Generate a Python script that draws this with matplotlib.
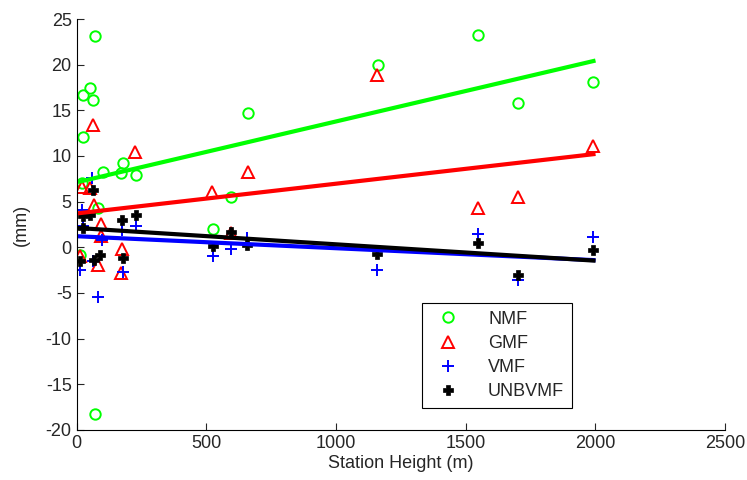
import matplotlib
matplotlib.use("Agg")
import matplotlib.pyplot as plt
from matplotlib import font_manager

# station heights (m) and biases (mm)
NMF_H = [13, 20, 23, 23, 52, 64, 71, 71, 84, 103, 171, 180, 229, 527, 594, 660, 1161, 1549, 1701, 1993]
NMF_V = [-0.8, 7.0, 16.7, 12.1, 17.5, 16.1, 23.1, -18.3, 4.3, 8.2, 8.1, 9.2, 7.9, 2.0, 5.55, 14.75, 20.0, 23.3, 15.8, 18.1]

GMF_H = [13, 20, 52, 64, 68, 81, 93, 95, 170, 177, 225, 524, 594, 660, 1160, 1549, 1701, 1993]
GMF_V = [-1.0, 6.6, 6.5, 13.4, 4.6, -1.9, 2.6, 1.2, -2.8, -0.2, 10.4, 6.1, 1.6, 8.2, 18.9, 4.3, 5.55, 11.1]

VMF_H = [13, 20, 26, 61, 64, 84, 97, 174, 180, 229, 527, 594, 656, 1157, 1549, 1701, 1993]
VMF_V = [-2.5, 4.1, 2.35, 7.6, -1.5, -5.4, 0.8, 1.9, -2.75, 2.35, -1.0, -0.2, 1.0, -2.5, 1.45, -3.6, 1.1]

UNB_H = [13, 26, 26, 52, 64, 68, 90, 174, 180, 229, 527, 594, 656, 1157, 1549, 1701, 1993]
UNB_V = [-1.5, 3.4, 2.1, 3.55, 6.3, -1.4, -0.8, 3.0, -1.2, 3.55, 0.1, 1.7, 0.3, -0.7, 0.45, -3.0, -0.3]

# linear fit end points (h from, h to) -> (v from, v to)
FIT_H = [13, 1993]
NMF_FIT = [7.2, 20.4]
GMF_FIT = [3.75, 10.2]
VMF_FIT = [1.2, -1.4]
UNB_FIT = [2.1, -1.45]

available = {f.name for f in font_manager.fontManager.ttflist}
family = "Liberation Sans Narrow" if "Liberation Sans Narrow" in available else "Liberation Sans"
plt.rcParams["font.family"] = [family, "DejaVu Sans"]
plt.rcParams["font.size"] = 13
plt.rcParams["axes.unicode_minus"] = False

fig = plt.figure(figsize=(7.47, 4.8), dpi=100)
ax = fig.add_axes([0.1025, 0.1042, 0.868, 0.8562])

ax.plot(NMF_H, NMF_V, "o", mfc="none", mec="#00ff00", mew=1.4, ms=7.5, label="NMF")
ax.plot(GMF_H, GMF_V, "^", mfc="none", mec="#ff0000", mew=1.4, ms=8, label="GMF")
ax.plot(VMF_H, VMF_V, "+", color="#0000ff", mew=1.4, ms=9, label="VMF")
ax.plot(UNB_H, UNB_V, "P", color="black", mew=0.5, ms=7, label="UNBVMF")

ax.plot(FIT_H, NMF_FIT, color="#00ff00", lw=3)
ax.plot(FIT_H, GMF_FIT, color="#ff0000", lw=3)
ax.plot(FIT_H, VMF_FIT, color="#0000ff", lw=3)
ax.plot(FIT_H, UNB_FIT, color="black", lw=3)

ax.set_xlim(0, 2500)
ax.set_ylim(-20, 25)
ax.set_xticks(range(0, 2501, 500))
ax.set_yticks(range(-20, 26, 5))
ax.spines["top"].set_visible(False)
ax.spines["right"].set_visible(False)
ax.tick_params(direction="in", length=5, colors="#262626", labelcolor="#262626")
ax.set_xlabel("Station Height (m)", color="#262626", labelpad=2)
ax.set_ylabel("(mm)", color="#262626")
ax.yaxis.set_label_coords(-0.072, 0.5)

leg = ax.legend(loc="upper left", bbox_to_anchor=(0.533, 0.31), fancybox=False,
                edgecolor="black", framealpha=1, borderpad=0.45, labelspacing=0.4,
                handletextpad=1.2, borderaxespad=0)
leg.get_frame().set_linewidth(0.8)
for t in leg.get_texts():
    t.set_color("#262626")

fig.savefig("out.png", dpi=100)
